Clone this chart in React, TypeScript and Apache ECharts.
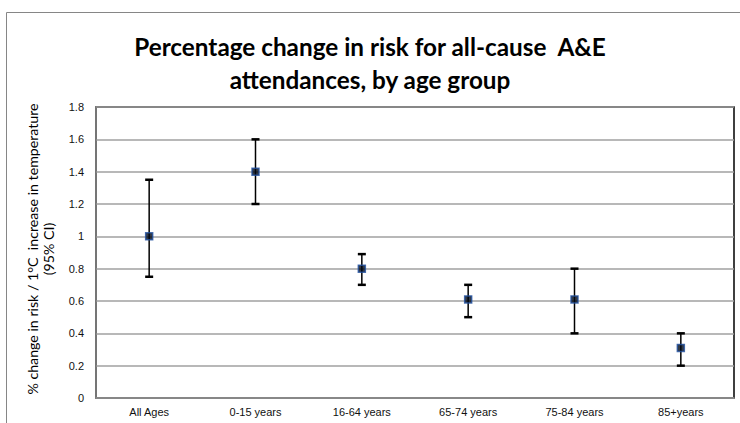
import React, { useEffect, useRef } from "react";
import * as echarts from "echarts";

const categories = ["All Ages", "0-15 years", "16-64 years", "65-74 years", "75-84 years", "85+years"];
const estimates = [1.0, 1.4, 0.8, 0.61, 0.61, 0.31];
const lowerCI = [0.75, 1.2, 0.7, 0.5, 0.4, 0.2];
const upperCI = [1.35, 1.6, 0.89, 0.7, 0.8, 0.4];
const titleText = "Percentage change in risk for all-cause  A&E\nattendances, by age group";
const yAxisTitle = "% change in risk / 1°C  increase in temperature\n(95% CI)";

export default function App() {
  const ref = useRef<HTMLDivElement>(null);
  useEffect(() => {
    if (!ref.current) return;
    const chart = echarts.init(ref.current, null, { renderer: "svg" });
    const errData = categories.map((_, i) => [i, lowerCI[i], upperCI[i]]);
    chart.setOption({
      animation: false,
      backgroundColor: "#fff",
      title: {
        text: titleText,
        left: "center",
        top: 25,
        textStyle: {
          fontFamily: "Lato",
          fontWeight: "bold",
          fontSize: 24.3,
          lineHeight: 33,
          color: "#000",
        },
      },
      graphic: [
        {
          type: "rect",
          shape: { x: 6.5, y: 12.5, width: 800, height: 500 },
          style: { fill: "none", stroke: "#868686", lineWidth: 1 },
          silent: true,
          z: 0,
        },
        {
          type: "text",
          x: 40,
          y: 249,
          rotation: Math.PI / 2,
          style: {
            text: yAxisTitle,
            fontFamily: "Lato",
            fontSize: 14.2,
            lineHeight: 16,
            fill: "#000",
            align: "center",
            verticalAlign: "middle",
          },
          z: 10,
        },
      ],
      grid: {
        left: 96,
        top: 107,
        right: 6,
        bottom: 25,
        show: true,
        borderColor: "#000",
        borderWidth: 1.5,
        backgroundColor: "transparent",
      },
      xAxis: {
        type: "category",
        data: categories,
        axisLine: { lineStyle: { color: "#888", width: 1.5 } },
        axisTick: { show: false },
        axisLabel: {
          fontFamily: "Liberation Sans",
          fontSize: 11,
          color: "#111",
          margin: 8,
          interval: 0,
        },
      },
      yAxis: {
        type: "value",
        min: 0,
        max: 1.8,
        interval: 0.2,
        axisLine: { show: true, lineStyle: { color: "#888", width: 1.5 } },
        axisTick: { show: false },
        splitLine: { lineStyle: { color: "#a0a0a0", width: 1.5 } },
        axisLabel: {
          fontFamily: "Liberation Sans",
          fontSize: 11,
          color: "#111",
          margin: 12,
          formatter: (v: number) => String(+v.toFixed(1)),
        },
      },
      series: [
        {
          type: "custom",
          data: errData,
          z: 3,
          renderItem: (params: any, api: any) => {
            const x = api.value(0);
            const lo = api.coord([x, api.value(1)]);
            const hi = api.coord([x, api.value(2)]);
            const cw = 4;
            return {
              type: "group",
              children: [
                {
                  type: "line",
                  shape: { x1: lo[0], y1: lo[1], x2: hi[0], y2: hi[1] },
                  style: { stroke: "#000", lineWidth: 1.5 },
                },
                {
                  type: "line",
                  shape: { x1: lo[0] - cw, y1: lo[1], x2: lo[0] + cw, y2: lo[1] },
                  style: { stroke: "#000", lineWidth: 2.5 },
                },
                {
                  type: "line",
                  shape: { x1: hi[0] - cw, y1: hi[1], x2: hi[0] + cw, y2: hi[1] },
                  style: { stroke: "#000", lineWidth: 2.5 },
                },
              ],
            };
          },
        },
        {
          type: "scatter",
          data: estimates,
          symbol: "rect",
          symbolSize: 7,
          z: 5,
          itemStyle: { color: "#000814", borderColor: "#1f4f9f", borderWidth: 1.5 },
        },
      ],
    });
    return () => chart.dispose();
  }, []);
  return (
    <div
      ref={ref}
      style={{ position: "fixed", left: 0, top: 0, width: 740, height: 423 }}
    />
  );
}
